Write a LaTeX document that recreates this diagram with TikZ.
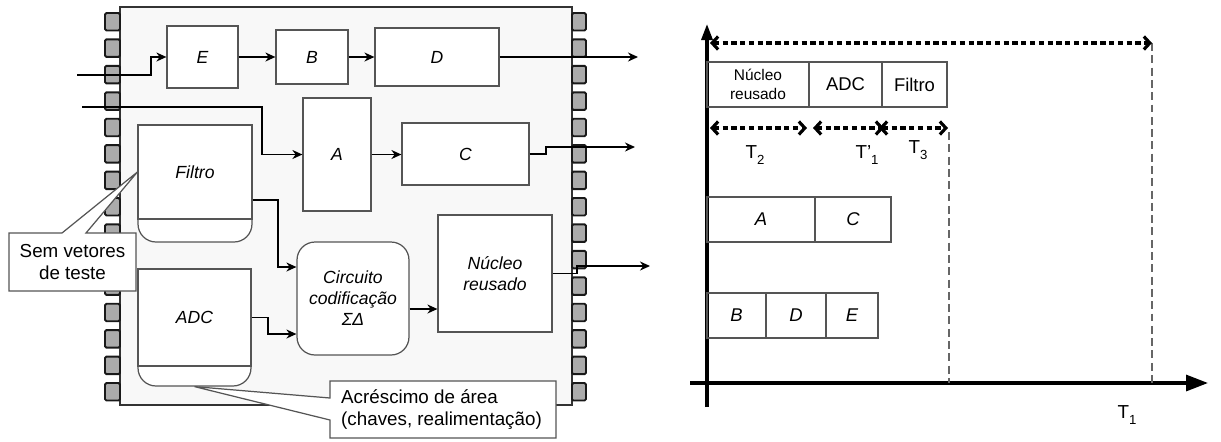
\documentclass[tikz,border=0pt]{standalone}
\usepackage{fontspec}
\setmainfont{Liberation Sans}
\usetikzlibrary{arrows.meta}

\definecolor{chipfill}{HTML}{F8F8F8}
\definecolor{pinfill}{HTML}{ABABAB}
\definecolor{linegray}{HTML}{555555}

\newcommand{\lowsub}[1]{\raisebox{-0.6ex}{\fontsize{7.5}{8}\selectfont #1}}

\tikzset{
  blk/.style={draw=linegray, fill=white, line width=0.7pt, inner sep=0pt, font=\itshape},
  pin/.style={draw=black!90, fill=pinfill, line width=1.1pt, rounded corners=0.8pt},
  flow/.style={line width=0.9pt, -{Stealth[length=2mm,width=1.8mm]}},
  callout/.style={draw=linegray, fill=white, line width=0.7pt},
  tbox/.style={draw=linegray, line width=0.6pt, inner sep=0pt, minimum height=0.9cm},
  axis/.style={line width=1.8pt},
  span/.style={line width=1.8pt, dash pattern=on 3pt off 2pt,
    {Straight Barb[length=1.2mm,width=2.6mm]}-{Straight Barb[length=1.2mm,width=2.6mm]}},
  guide/.style={draw=black!60, line width=0.6pt, dash pattern=on 4.5pt off 2.5pt}
}

\begin{document}
\begin{tikzpicture}[x=0.02cm, y=-0.02cm, font=\fontsize{10.7}{12.5}\selectfont]

    \useasboundingbox (0,0) rectangle (1221,441);

    % Chip body
    \draw[fill=chipfill, draw=black!80, line width=0.9pt] (120,7) rectangle (572,405);

    % Pins on both sides
    \foreach \i in {0,...,14} {
        \pgfmathsetmacro\py{13+26.43*\i}
        \draw[pin] (105,\py) rectangle (120,\py+17.5);
        \draw[pin] (572,\py) rectangle (586,\py+17.5);
    }

    % Blocks of the chip
    \node[blk, minimum width=1.42cm, minimum height=1.24cm] (E) at (202.5,57) {E};
    \node[blk, minimum width=1.44cm, minimum height=1.08cm] (B) at (312,57) {B};
    \node[blk, minimum width=2.48cm, minimum height=1.16cm] (D) at (437,57) {D};
    \node[blk, minimum width=1.36cm, minimum height=2.26cm] (A) at (337,154.5) {A};
    \node[blk, minimum width=2.54cm, minimum height=1.24cm] (C) at (465.5,154) {C};

    % Filtro and ADC (rounded bottom part)
    \node[blk, rounded corners=0.36cm, minimum width=2.28cm, minimum height=2.34cm] (filtrobase) at (195,183.5) {};
    \node[blk, minimum width=2.28cm, minimum height=1.88cm] (filtro) at (195,172) {Filtro};
    \node[blk, rounded corners=0.36cm, minimum width=2.26cm, minimum height=2.34cm] (adcbase) at (194.5,327.5) {};
    \node[blk, minimum width=2.26cm, minimum height=1.94cm] (adc) at (194.5,317.5) {ADC};

    % Encoder and reused core
    \node[blk, rounded corners=0.36cm, minimum width=2.24cm, minimum height=2.26cm, align=center] (circ) at (353,298.5)
        {Circuito\\codificação\\ΣΔ};
    \node[blk, minimum width=2.28cm, minimum height=2.34cm, align=center] (nucleo) at (495,273.5)
        {Núcleo\\reusado};

    % Free ends of the signal lines
    \coordinate (inE) at (77,75);
    \coordinate (inA) at (82,107);
    \coordinate (outD) at (638,57);
    \coordinate (outC) at (635,147);
    \coordinate (outN) at (650,266);

    % Signal lines
    \draw[flow] (inE) -- (151,75) |- (E.west);
    \draw[flow] (E) -- (B);
    \draw[flow] (B) -- (D);
    \draw[flow] (D) -- (outD);
    \draw[flow] (inA) -| (262,154.5) -- (A.west);
    \draw[flow] (A) -- (C.west |- A.east);
    \draw[flow] (C.east) -- (546,154) |- (outC);
    \draw[flow] (filtro.east |- 0,200) -| (278,267) -- (circ.west |- 0,267);
    \draw[flow] (adc.east) -| (268,334) -- (circ.west |- 0,334);
    \draw[flow] (circ.east |- 0,309) -- (nucleo.west |- 0,309);
    \draw[flow] (nucleo.east) -- (577,273.5) |- (outN);

    % Callouts
    \draw[callout] (9,233) -- (62,233) -- (filtro.west) -- (86,233) -- (136,233) -- (136,291) -- (9,291) -- cycle;
    \node[align=center] (semvet) at (72.5,262) {Sem vetores\\de teste};
    \draw[callout] (330,381) -- (556,381) -- (556,438) -- (330,438) -- (330,420) -- (adcbase.south) -- (330,398) -- cycle;
    \node[align=left, anchor=west] (acresc) at (335,409.5) {Acréscimo de área\\(chaves, realimentação)};

    % Time chart: axes
    \coordinate (origin) at (707,383);
    \draw[axis, -{Triangle[length=4.4mm,width=3.2mm]}] (690,383) -- (1208,383);
    \draw[axis, -{Triangle[length=3.2mm,width=2.2mm]}] (707,407) -- (707,24);

    % Time chart: schedule rows
    \node[tbox, minimum width=2.04cm, align=center, font=\fontsize{8.8}{10.5}\selectfont] (nucT) at (758,84.5) {Núcleo\\reusado};
    \node[tbox, minimum width=1.46cm, font=\fontsize{10.5}{12}\selectfont] (adcT) at (845.5,84.5) {ADC};
    \node[tbox, minimum width=1.30cm, font=\fontsize{10.5}{12}\selectfont] (filT) at (914.5,84.5) {Filtro};
    \node[tbox, minimum width=2.16cm, font=\fontsize{10.5}{12}\selectfont\itshape] (aT) at (761,219.5) {A};
    \node[tbox, minimum width=1.52cm, font=\fontsize{10.5}{12}\selectfont\itshape] (cT) at (853,219.5) {C};
    \node[tbox, minimum width=1.18cm, font=\fontsize{10.5}{12}\selectfont\itshape] (bT) at (736.5,315.5) {B};
    \node[tbox, minimum width=1.20cm, font=\fontsize{10.5}{12}\selectfont\itshape] (dT) at (796,315.5) {D};
    \node[tbox, minimum width=1.04cm, font=\fontsize{10.5}{12}\selectfont\itshape] (eT) at (852,315.5) {E};

    % Time spans
    \coordinate (t1a) at (710,43);
    \coordinate (t1b) at (1152,43);
    \coordinate (t2a) at (710,128);
    \coordinate (t2b) at (807,128);
    \coordinate (t4a) at (813,128);
    \coordinate (t4b) at (884,128);
    \coordinate (t3a) at (879,128);
    \coordinate (t3b) at (948,128);
    \draw[guide] (t1b) -- (t1b |- origin);
    \draw[guide] (949,132) -- (949,383);
    \draw[span] (t1a) -- (t1b);
    \draw[span] (t2a) -- (t2b);
    \draw[span] (t4a) -- (t4b);
    \draw[span] (t3a) -- (t3b);

    % Time labels
    \node (lT2) at (755,155) {T\lowsub{2}};
    \node (lT1p) at (867,155) {T'\lowsub{1}};
    \node (lT3) at (918,150) {T\lowsub{3}};
    \node (lT1) at (1127,415) {T\lowsub{1}};
\end{tikzpicture}
\end{document}
